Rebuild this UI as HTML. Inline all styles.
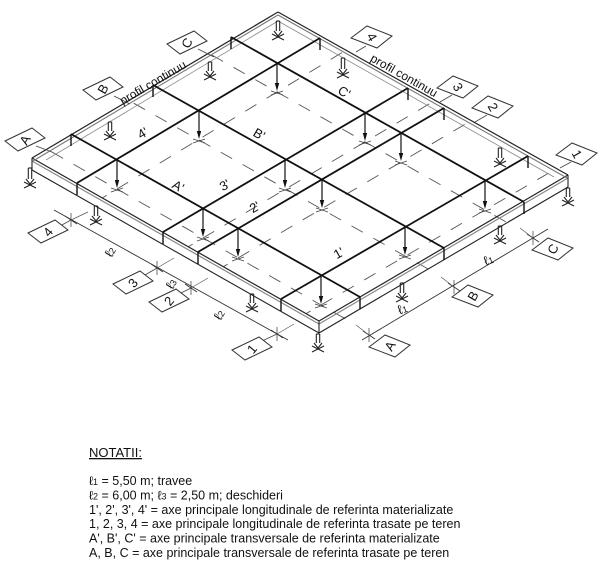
<!DOCTYPE html>
<html><head><meta charset="utf-8">
<style>
html,body{margin:0;padding:0;background:#fff;}
svg{display:block;}
.t{font-family:"Liberation Sans",Arial,sans-serif;fill:#111;}
</style></head>
<body>
<svg id="s" width="604" height="574" viewBox="0 0 604 574" xmlns="http://www.w3.org/2000/svg">
<defs>
<clipPath id="cp"><polygon points="30,158 278,11 570,175 570,188 319,334 30,171"/></clipPath>
</defs>
<g id="g"></g>
<g class="t" font-size="12.5">
<text x="89" y="457" font-size="13" text-decoration="underline">NOTATII:</text>
<text x="89" y="485">ℓ<tspan font-size="9">1</tspan> = 5,50 m; travee</text>
<text x="89" y="499.4">ℓ<tspan font-size="9">2</tspan> = 6,00 m; ℓ<tspan font-size="9">3</tspan> = 2,50 m; deschideri</text>
<text x="89" y="513.8">1', 2', 3', 4' = axe principale longitudinale de referinta materializate</text>
<text x="89" y="528.2">1, 2, 3, 4 = axe principale longitudinale de referinta trasate pe teren</text>
<text x="89" y="542.6">A', B', C' = axe principale transversale de referinta materializate</text>
<text x="89" y="557">A, B, C = axe principale transversale de referinta trasate pe teren</text>
</g>
</svg>
<script>
(function(){
var g=document.getElementById('g'),NS='http://www.w3.org/2000/svg';
function el(n,a,t){var e=document.createElementNS(NS,n);for(var k in a)e.setAttribute(k,a[k]);if(t!==undefined)e.textContent=t;g.appendChild(e);return e;}
function L(x1,y1,x2,y2,w,c,d,extra){var a={x1:x1,y1:y1,x2:x2,y2:y2,stroke:c||'#222','stroke-width':w||1};if(d)a['stroke-dasharray']=d;if(extra)for(var k in extra)a[k]=extra[k];return el('line',a);}
var N={A:{4:[117,159],3:[203,208],2:[238,228],1:[321,275]},
       B:{4:[199,110],3:[285,159],2:[322,179],1:[405,226]},
       C:{4:[277,62],3:[365,112],2:[401,132],1:[485,180]}};
var Lc=[32,158],T=[278,12],R=[568,175],B=[319,321],H=12;
var nums=[4,3,2,1],lets=['A','B','C'];
function dashedThrough(p,q){var dx=q[0]-p[0],dy=q[1]-p[1],l=Math.hypot(dx,dy),ux=dx/l,uy=dy/l;
 L(p[0]-ux*400,p[1]+30-uy*400,p[0]+ux*400,p[1]+30+uy*400,0.9,'#555','13,12',{'clip-path':'url(#cp)'});}
nums.forEach(function(k){dashedThrough(N.A[k],N.C[k]);});
lets.forEach(function(x){dashedThrough(N[x][4],N[x][1]);});
el('polygon',{points:[Lc,B,[B[0],B[1]+H],[Lc[0],Lc[1]+H]].join(' '),fill:'#fff',stroke:'none'});
L(Lc[0],Lc[1],B[0],B[1],1.2);L(B[0],B[1],R[0],R[1],1.2);
L(Lc[0],Lc[1]+3,B[0],B[1]+3,1.2,'#888');L(B[0],B[1]+3,R[0],R[1]+3,1.2,'#888');
L(Lc[0],Lc[1]+H,B[0],B[1]+H,1.1);L(B[0],B[1]+H,R[0],R[1]+H,1.1);
L(Lc[0],Lc[1],Lc[0],Lc[1]+H,1.1);L(B[0],B[1],B[0],B[1]+H,1.1);L(R[0],R[1],R[0],R[1]+H,1.1);
L(Lc[0],Lc[1],T[0],T[1],1.2);L(T[0],T[1],R[0],R[1],1.2);
L(Lc[0]+1,Lc[1]+3,T[0],T[1]+3,1.1,'#777');L(T[0],T[1]+3,R[0]-1,R[1]+3,1.1,'#777');
L(Lc[0]+14,Lc[1]+2,T[0],T[1]+9,0.8,'#888');L(T[0],T[1]+9,R[0]-14,R[1]+2,0.8,'#888');
nums.forEach(function(k){var a=N.A[k],c=N.C[k];var p=[a[0]-40,a[1]+24],q=[c[0]+43,c[1]-24];
 L(p[0],p[1],q[0],q[1],1.8,'#111');L(p[0],p[1],p[0],p[1]+H,1.4,'#111');L(q[0],q[1],q[0],q[1]+H,1.4,'#111');});
lets.forEach(function(x){var a=N[x][4],c=N[x][1];var p=[a[0]-46,a[1]-25],q=[c[0]+39,c[1]+22];
 L(p[0],p[1],q[0],q[1],1.8,'#111');L(p[0],p[1],p[0],p[1]+H,1.4,'#111');L(q[0],q[1],q[0],q[1]+H,1.4,'#111');});
lets.forEach(function(x){nums.forEach(function(k){var n=N[x][k];
 L(n[0],n[1],n[0],n[1]+24,1.2,'#111');
 el('polygon',{points:(n[0]-2.2)+','+(n[1]+21)+' '+(n[0]+2.2)+','+(n[1]+21)+' '+n[0]+','+(n[1]+29),fill:'#111'});
 L(n[0]-6,n[1]+29,n[0]+6,n[1]+33,0.8,'#444');L(n[0]-6,n[1]+33,n[0]+6,n[1]+29,0.8,'#444');});});
[[30,168,186],[110,122,138],[210,62,78],[278,21,38],[343,58,76],[500,148,165],[568,188,204],[402,283,300],[500,226,242],[96,206,223],[252,294,310],[318,334,350]].forEach(function(s){
 var x=s[0],y1=s[1],y2=s[2];
 L(x-1.7,y1,x-1.7,y2-7,1.1,'#222');L(x+1.7,y1,x+1.7,y2-7,1.1,'#222');L(x-1.7,y1,x+1.7,y1,1.1);
 el('polyline',{points:(x-4)+','+(y2-7)+' '+x+','+(y2-2)+' '+(x+4)+','+(y2-7),fill:'none',stroke:'#222','stroke-width':1.1});
 L(x-6,y2-4,x+6,y2+2,1.1);L(x-6,y2+2,x+6,y2-4,1.1);});
L(54,210,288,340,0.9,'#333');L(362,340,548,229,0.9,'#333');
function tick(x,y){L(x-6,y-4,x+6,y+4,0.9,'#333');L(x,y-7,x,y+7,0.7,'#333');}
[[71,220],[157,268],[191,288],[277,334],[369,335],[454,287],[533,238]].forEach(function(p){tick(p[0],p[1]);});
[[71,220,88,212],[157,268,174,258],[191,288,208,278],[277,334,294,324]].forEach(function(a){L(a[0],a[1],a[2],a[3],0.7,'#555');});
[[369,335,356,325],[454,287,441,277],[533,238,520,228]].forEach(function(a){L(a[0],a[1],a[2],a[3],0.7,'#555');});
function tag(cx,cy,t,rot,type){var o=type?[[-21,1],[-5,-11],[20,-1],[5,11]]:[[-20,1],[7,-12],[20,-2],[-7,11]];
 el('polygon',{points:o.map(function(v){return (cx+v[0])+','+(cy+v[1]);}).join(' '),fill:'#fff',stroke:'#333','stroke-width':1});
 el('text',{x:cx,y:cy+4.5,'font-size':13,'text-anchor':'middle',transform:'rotate('+rot+' '+cx+' '+cy+')','class':'t'},t);}
L(36,146,52,152,0.8,'#444');L(114,96,130,104,0.8,'#444');L(198,49,214,57,0.8,'#444');
L(366,46,356,52,0.8,'#444');L(452,95,440,102,0.8,'#444');L(487,115,475,122,0.8,'#444');L(571,162,560,168,0.8,'#444');
L(60,226,71,220,0.8,'#444');L(145,275,157,268,0.8,'#444');L(181,293,191,288,0.8,'#444');L(262,341,277,334,0.8,'#444');
tag(25,140,'A',-60,0);tag(103,89,'B',-60,0);tag(187,43,'C',-60,0);
tag(372,37,'4',60,1);tag(458,87,'3',60,1);tag(493,107,'2',60,1);tag(577,154,'1',60,1);
tag(48,232,'4',-50,0);tag(133,283,'3',-50,0);tag(169,301,'2',-50,0);tag(252,349,'1',-50,0);
tag(390,346,'A',-60,1);tag(473,296,'B',-60,1);tag(553,249,'C',-60,1);
function lab(x,y,t,r,fs){el('text',{x:x,y:y,'font-size':fs||13,'text-anchor':'middle',transform:'rotate('+r+' '+x+' '+y+')','class':'t'},t);}
lab(145,137,"4'",-30);lab(227,189,"3'",-30);lab(257,211,"2'",-30);lab(341,257,"1'",-30);
lab(176,190,"A'",30);lab(257,138,"B'",30);lab(342,96,"C'",30);
lab(155,86,'profil continuu',-30.5,12);lab(402,79,'profil continuu',29.5,12);
function dl(x,y,s,r){var e=el('text',{x:x,y:y,'font-size':13,'text-anchor':'middle',transform:'rotate('+r+' '+x+' '+y+')','class':'t'},'ℓ');var ts=document.createElementNS(NS,'tspan');ts.setAttribute('font-size','9');ts.textContent=s;e.appendChild(ts);}
dl(114,254,'2',-60);dl(175,286,'3',-60);dl(223,317,'2',-60);dl(404,313,'1',-20);dl(490,264,'1',-20);
})();
</script>
</body></html>
